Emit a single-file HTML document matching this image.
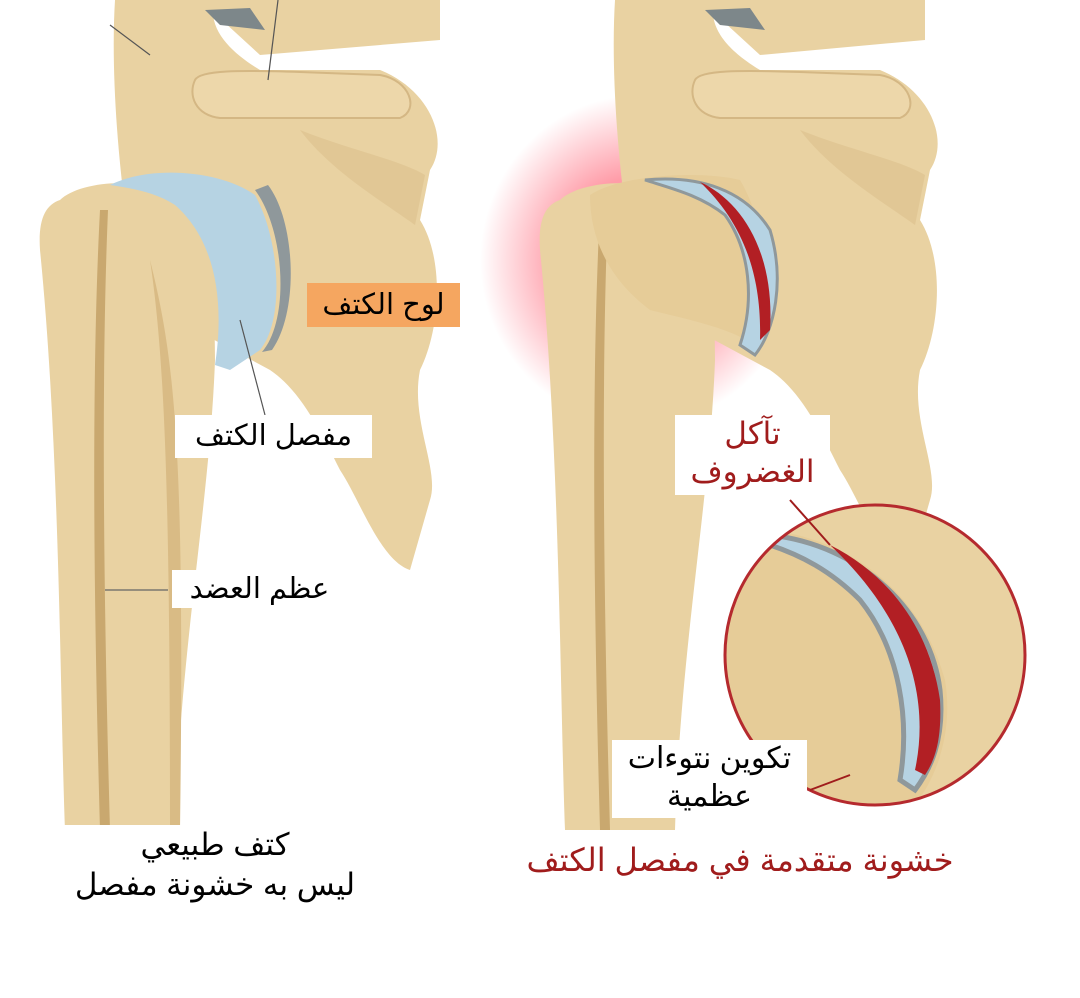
<!DOCTYPE html>
<html><head><meta charset="utf-8"><style>
body{margin:0;width:1080px;height:998px;background:#fff;overflow:hidden;position:relative;font-family:"Liberation Sans","DejaVu Sans","Noto Sans CJK SC",sans-serif}
.l{position:absolute;direction:rtl;white-space:nowrap;line-height:1}
</style></head><body>
<svg width="1080" height="998" style="position:absolute;left:0;top:0">
<defs>
<radialGradient id="glow" cx="0.5" cy="0.5" r="0.5"><stop offset="0.5" stop-color="#ff5a6e" stop-opacity="0.6"/><stop offset="1" stop-color="#ff5a6e" stop-opacity="0"/></radialGradient>
<clipPath id="cc"><circle cx="875" cy="655" r="150"/></clipPath>
</defs>
<!-- LEFT -->
<g>
<path d="M115,0 L215,0 C205,30 235,55 260,70 L380,70 C430,90 450,140 430,170 L420,220 C445,260 440,330 420,370 C410,420 440,470 430,500 L410,570 C380,560 360,500 340,470 C320,430 300,390 270,370 L140,300 C120,200 110,80 115,0Z" fill="#e9d2a2"/>
<path d="M300,130 C350,150 400,160 425,175 L415,225 C380,200 330,170 300,130Z" fill="#dcc08c" opacity="0.6"/>
<path d="M200,0 L440,0 L440,40 L260,55 Z" fill="#e9d2a2"/>
<path d="M205,10 L250,8 L265,30 L220,25Z" fill="#7d878a"/>
<path d="M195,80 C200,70 240,70 300,72 L380,75 C410,80 420,110 400,118 L220,118 C195,115 188,95 195,80Z" fill="#edd7aa" stroke="#d4b784" stroke-width="2"/>
<path d="M60,200 C80,180 150,175 180,200 C210,240 215,300 215,360 C210,500 180,650 175,830 L65,830 C60,700 60,450 40,250 C38,220 45,205 60,200Z" fill="#e9d2a2"/>
<path d="M100,210 C90,400 95,650 100,830 L110,830 C105,650 100,400 108,210Z" fill="#c9a86f"/>
<path d="M150,260 C175,360 185,450 180,830 L170,830 C170,500 165,360 150,260Z" fill="#d9bb85"/>
<path d="M110,185 C150,165 220,170 255,195 C280,240 285,320 260,350 L230,370 L215,365 C225,300 215,240 175,205 C155,192 130,188 110,185Z" fill="#b6d3e3"/>
<path d="M255,190 C285,230 290,320 262,352 L272,350 C300,310 295,220 268,185Z" fill="#8f989b"/>
<line x1="240" y1="320" x2="265" y2="415" stroke="#555" stroke-width="1.2"/>
<line x1="105" y1="590" x2="168" y2="590" stroke="#666" stroke-width="1.2"/>
<line x1="110" y1="25" x2="150" y2="55" stroke="#555" stroke-width="1.2"/>
<line x1="278" y1="0" x2="268" y2="80" stroke="#555" stroke-width="1.2"/>
</g>
<!-- RIGHT -->
<ellipse cx="640" cy="260" rx="160" ry="165" fill="url(#glow)"/>
<g>
<path d="M615,0 L715,0 C705,30 735,55 760,70 L880,70 C930,90 950,140 930,170 L920,220 C945,260 940,330 920,370 C910,420 940,470 930,500 L910,570 C880,560 860,500 840,470 C820,430 800,390 770,370 L640,300 C620,200 610,80 615,0Z" fill="#e9d2a2"/>
<path d="M800,130 C850,150 900,160 925,175 L915,225 C880,200 830,170 800,130Z" fill="#dcc08c" opacity="0.6"/>
<path d="M700,0 L925,0 L925,40 L760,55 Z" fill="#e9d2a2"/>
<path d="M705,10 L750,8 L765,30 L720,25Z" fill="#7d878a"/>
<path d="M695,80 C700,70 740,70 800,72 L880,75 C910,80 920,110 900,118 L720,118 C695,115 688,95 695,80Z" fill="#edd7aa" stroke="#d4b784" stroke-width="2"/>
<path d="M560,200 C580,180 650,175 680,200 C710,240 715,300 715,360 C710,500 680,650 675,830 L565,830 C560,700 560,450 540,250 C538,220 545,205 560,200Z" fill="#e9d2a2"/>
<path d="M600,210 C590,400 595,650 600,830 L610,830 C605,650 600,400 608,210Z" fill="#c9a86f"/>
<path d="M590,195 C620,175 700,170 740,180 C770,230 775,320 760,350 C740,330 690,320 650,310 C610,280 590,240 590,195Z" fill="#e6cc98"/>
<path d="M645,180 C700,175 745,190 770,230 C785,280 775,330 755,355 L740,345 C755,300 750,250 725,215 C700,195 670,188 645,180Z" fill="#b6d3e3" stroke="#8f989b" stroke-width="3"/>
<path d="M700,182 C740,200 775,250 770,330 L760,340 C762,270 740,220 700,182Z" fill="#b21f24"/>
</g>
<!-- inset -->
<g clip-path="url(#cc)">
<rect x="720" y="500" width="310" height="310" fill="#e6cc98"/>
<path d="M770,530 C850,540 920,590 945,680 C955,740 930,790 910,810 L1030,810 L1030,500 L760,500Z" fill="#e9d2a2"/>
<path d="M770,535 C860,545 930,610 940,690 C945,740 930,770 915,790 L900,780 C910,720 900,650 860,600 C830,570 800,555 770,545Z" fill="#b6d3e3" stroke="#8f989b" stroke-width="5"/>
<path d="M830,545 C890,575 930,630 940,700 C942,740 935,760 925,775 L915,770 C930,700 910,620 830,545Z" fill="#b21f24"/>
</g>
<circle cx="875" cy="655" r="150" fill="none" stroke="#b52a2e" stroke-width="3"/>
<line x1="790" y1="500" x2="830" y2="545" stroke="#a01c1c" stroke-width="2"/>
<line x1="810" y1="790" x2="850" y2="775" stroke="#a01c1c" stroke-width="2"/>
</svg>
<div class="l" style="left:307px;top:283px;width:153px;height:44px;background:#f5a660;font-size:29px;text-align:center;line-height:44px">لوح الكتف</div>
<div class="l" style="left:175px;top:415px;width:197px;height:43px;background:#fff;font-size:29px;text-align:center;line-height:43px">مفصل الكتف</div>
<div class="l" style="left:172px;top:570px;width:175px;height:38px;background:#fff;font-size:29px;text-align:center;line-height:38px">عظم العضد</div>
<div class="l" style="left:55px;top:825px;width:320px;height:85px;background:#fff;font-size:31px;text-align:center;line-height:40px">كتف طبيعي<br>ليس به خشونة مفصل</div>
<div class="l" style="left:675px;top:415px;width:155px;height:80px;background:#fff;color:#a01c1c;font-size:31px;text-align:center;line-height:38px">تآكل<br>الغضروف</div>
<div class="l" style="left:612px;top:740px;width:195px;height:78px;background:#fff;font-size:30px;text-align:center;line-height:38px">تكوين نتوءات<br>عظمية</div>
<div class="l" style="left:505px;top:840px;width:470px;height:40px;color:#a01c1c;font-size:32px;text-align:center;line-height:40px">خشونة متقدمة في مفصل الكتف</div>
</body></html>
